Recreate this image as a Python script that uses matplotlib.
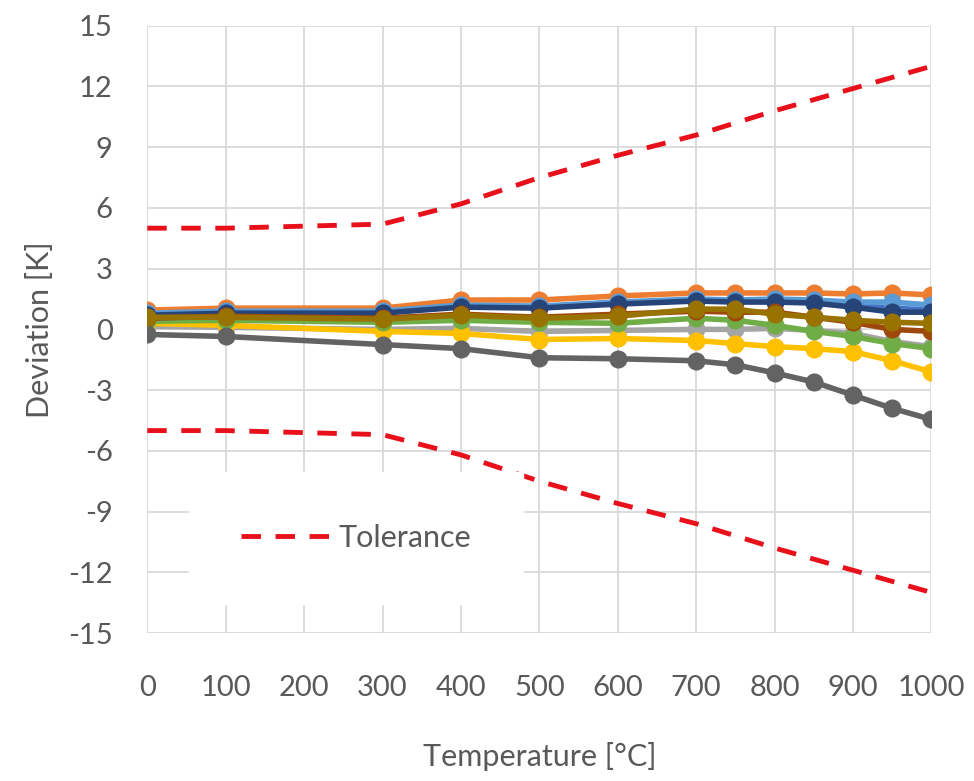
import matplotlib.pyplot as plt

plt.rcParams['font.family'] = ['Lato', 'DejaVu Sans']
plt.rcParams['axes.unicode_minus'] = False

# Temperaturen der Messpunkte
temps = [0, 100, 300, 400, 500, 600, 700, 750, 800, 850, 900, 950, 1000]

# Abweichungen der einzelnen Thermoelemente [K]
blue = [0.75, 0.85, 0.85, 1.15, 1.1, 1.3, 1.45, 1.4, 1.4, 1.35, 1.2, 1.05, 0.95]
orange = [0.95, 1.05, 1.05, 1.45, 1.45, 1.65, 1.8, 1.8, 1.8, 1.8, 1.75, 1.8, 1.7]
gray = [0.15, 0.1, 0.0, 0.05, -0.1, -0.05, 0.0, 0.0, 0.05, -0.05, -0.2, -0.6, -0.85]
gold = [0.3, 0.2, -0.1, -0.2, -0.5, -0.45, -0.55, -0.7, -0.85, -0.95, -1.1, -1.55, -2.1]
lightblue = [0.8, 0.9, 0.9, 1.2, 1.15, 1.35, 1.5, 1.45, 1.5, 1.45, 1.35, 1.35, 1.2]
green = [0.4, 0.45, 0.35, 0.45, 0.35, 0.3, 0.55, 0.45, 0.2, -0.1, -0.35, -0.7, -0.95]
darkblue = [0.7, 0.8, 0.8, 1.1, 1.05, 1.25, 1.4, 1.35, 1.35, 1.3, 1.1, 0.85, 0.85]
brown = [0.55, 0.65, 0.55, 0.75, 0.6, 0.75, 0.9, 0.85, 0.85, 0.6, 0.35, 0.0, -0.1]
darkgray = [-0.25, -0.35, -0.75, -0.95, -1.4, -1.45, -1.55, -1.75, -2.15, -2.6, -3.25, -3.9, -4.45]
olive = [0.6, 0.6, 0.5, 0.7, 0.55, 0.65, 1.0, 1.0, 0.75, 0.6, 0.45, 0.35, 0.3]

series = [blue, orange, gray, gold, lightblue, green, darkblue, brown, darkgray, olive]
colors = ['#4472C4', '#ED7D31', '#A5A5A5', '#FFC000', '#5B9BD5',
          '#70AD47', '#264478', '#9E480E', '#636363', '#997300']

# Toleranzgrenzen
tol_temps = [0, 100, 300, 400, 500, 600, 700, 800, 900, 1000]
tol_upper = [5.0, 5.0, 5.2, 6.2, 7.5, 8.6, 9.6, 10.8, 11.9, 13.0]
tol_lower = [-5.0, -5.0, -5.2, -6.2, -7.5, -8.6, -9.6, -10.8, -11.9, -13.0]

fig = plt.figure(figsize=(9.74, 7.81), dpi=100)
ax = fig.add_axes([0.1512, 0.1895, 0.8051, 0.7775])

for vals, c in zip(series, colors):
    ax.plot(temps, vals, color=c, linewidth=4, marker='o', markersize=13,
            markeredgewidth=0, zorder=3)

red = '#E8101A'
ax.plot(tol_temps, tol_upper, color=red, linewidth=3.5, linestyle=(0, (4, 3)),
        label='Tolerance', zorder=2)
ax.plot(tol_temps, tol_lower, color=red, linewidth=3.5, linestyle=(0, (4, 3)),
        zorder=2)

ax.set_xlim(0, 1000)
ax.set_ylim(-15, 15)
ax.set_xticks(range(0, 1001, 100))
ax.set_yticks(range(-15, 16, 3))
ax.grid(True, color='#D9D9D9', linewidth=1.3)
ax.set_axisbelow(True)
for s in ax.spines.values():
    s.set_visible(False)
ax.tick_params(length=0, labelsize=21, labelcolor='#595959')
ax.tick_params(axis='y', pad=25)
ax.tick_params(axis='x', pad=30)

ax.set_xlabel('Temperature [°C]', fontsize=22, color='#595959', labelpad=30)
ax.set_ylabel('Deviation [K]', fontsize=22, color='#595959', labelpad=10)

leg = ax.legend(loc='center', bbox_to_anchor=(0.266, 0.157), fontsize=22,
                handlelength=2.9, handletextpad=0.3, borderpad=1.1,
                borderaxespad=0, frameon=True, fancybox=False,
                facecolor='white', edgecolor='white', framealpha=1)
leg.get_frame().set_boxstyle('square', pad=0.6)
for t in leg.get_texts():
    t.set_color('#595959')

fig.savefig('out.png', dpi=100, facecolor='white')
